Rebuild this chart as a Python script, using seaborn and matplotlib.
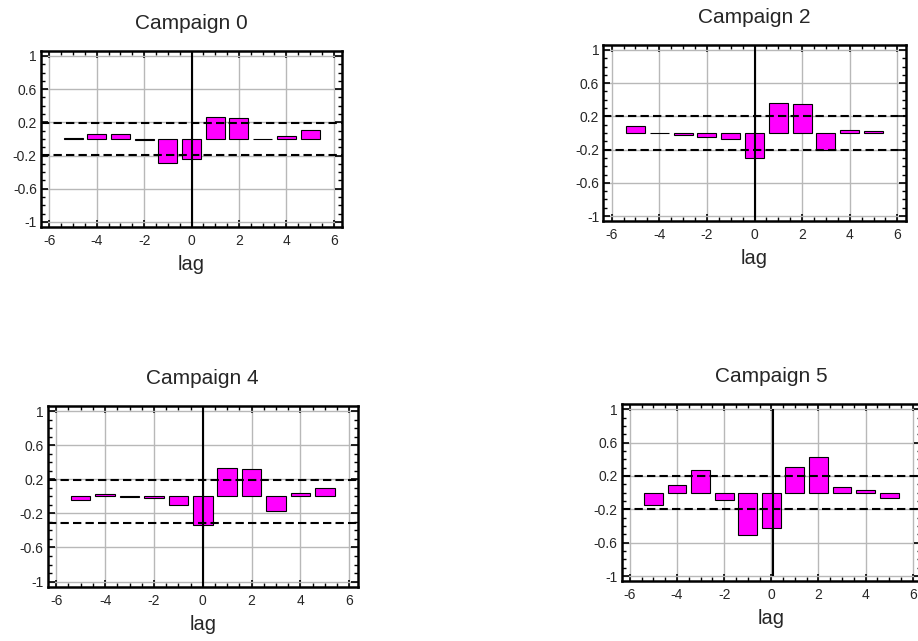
import matplotlib

matplotlib.use("Agg")
import matplotlib.pyplot as plt
import seaborn as sns
from matplotlib.ticker import MultipleLocator

sns.set_style("white")
plt.rcParams["font.family"] = ["Liberation Sans", "DejaVu Sans"]
plt.rcParams["axes.unicode_minus"] = False

TITLE_SIZE = 15
LABEL_SIZE = 14.5
TICK_SIZE = 10
BAR_COLOR = "#ff00ff"
GRID_COLOR = "#b8b8b8"

# cross-correlation by lag
LAGS = [-5, -4, -3, -2, -1, 0, 1, 2, 3, 4, 5]
TITLES = ["Campaign 0", "Campaign 2", "Campaign 4", "Campaign 5"]
CAMPAIGN_0 = [0.015, 0.06, 0.06, -0.01, -0.29, -0.24, 0.26, 0.25, 0.004, 0.03, 0.11]
CAMPAIGN_2 = [0.09, -0.003, -0.03, -0.05, -0.07, -0.30, 0.36, 0.35, -0.21, 0.035, 0.02]
CAMPAIGN_4 = [-0.04, 0.03, -0.003, -0.02, -0.10, -0.34, 0.33, 0.32, -0.17, 0.04, 0.10]
CAMPAIGN_5 = [-0.15, 0.09, 0.27, -0.09, -0.51, -0.42, 0.31, 0.43, 0.07, 0.03, -0.06]
UPPER_LIMIT = [0.19, 0.20, 0.19, 0.20]
LOWER_LIMIT = [-0.19, -0.20, -0.31, -0.20]

# axes boxes in figure fractions (left, bottom, width, height)
AXES_BOXES = [
    (0.0447, 0.6459, 0.3279, 0.2746),
    (0.6572, 0.6552, 0.3294, 0.2746),
    (0.0520, 0.0847, 0.3377, 0.2819),
    (0.6772, 0.0936, 0.3260, 0.2757),
]


def draw_panel(ax, values, title, upper, lower, clip_zero_line=False):
    sns.barplot(
        x=LAGS,
        y=values,
        native_scale=True,
        width=0.8,
        color=BAR_COLOR,
        saturation=1,
        edgecolor="black",
        linewidth=0.8,
        ax=ax,
        zorder=3,
    )
    ax.set_xlim(-6.35, 6.35)
    ax.set_ylim(-1.06, 1.06)
    ax.xaxis.set_major_locator(MultipleLocator(2))
    ax.xaxis.set_minor_locator(MultipleLocator(0.5))
    ax.set_yticks([-1, -0.6, -0.2, 0.2, 0.6, 1])
    ax.set_yticklabels(["-1", "-0.6", "-0.2", "0.2", "0.6", "1"])
    ax.yaxis.set_minor_locator(MultipleLocator(0.1))
    ax.grid(True, which="major", color=GRID_COLOR, linewidth=1.0, zorder=0)
    ax.set_axisbelow(True)

    for y in (upper, lower):
        ax.axhline(y, color="black", linewidth=1.5, dashes=(4, 2), zorder=4)
    if clip_zero_line:
        ax.vlines(0.08, -1, 1, color="black", linewidth=1.5, zorder=5)
    else:
        ax.axvline(0, color="black", linewidth=1.5, zorder=5)

    for spine in ax.spines.values():
        spine.set_visible(True)
        spine.set_linewidth(1.8)
        spine.set_color("black")
    ax.tick_params(
        which="both", direction="in", top=True, right=True,
        bottom=True, left=True, labelsize=TICK_SIZE, color="black",
    )
    ax.tick_params(which="major", length=5, width=1.2)
    ax.tick_params(which="minor", length=3, width=1.0)
    ax.tick_params(axis="x", pad=5)
    ax.tick_params(axis="y", pad=3)

    ax.set_title(title, fontsize=TITLE_SIZE, pad=16)
    ax.set_xlabel("lag", fontsize=LABEL_SIZE, labelpad=5)
    ax.set_ylabel("")


fig = plt.figure(figsize=(9.18, 6.41), dpi=100)
series = [CAMPAIGN_0, CAMPAIGN_2, CAMPAIGN_4, CAMPAIGN_5]
for i, values in enumerate(series):
    ax = fig.add_axes(AXES_BOXES[i])
    draw_panel(ax, values, TITLES[i], UPPER_LIMIT[i], LOWER_LIMIT[i],
               clip_zero_line=(i == 3))

fig.savefig("out.png", dpi=100)
plt.close(fig)
